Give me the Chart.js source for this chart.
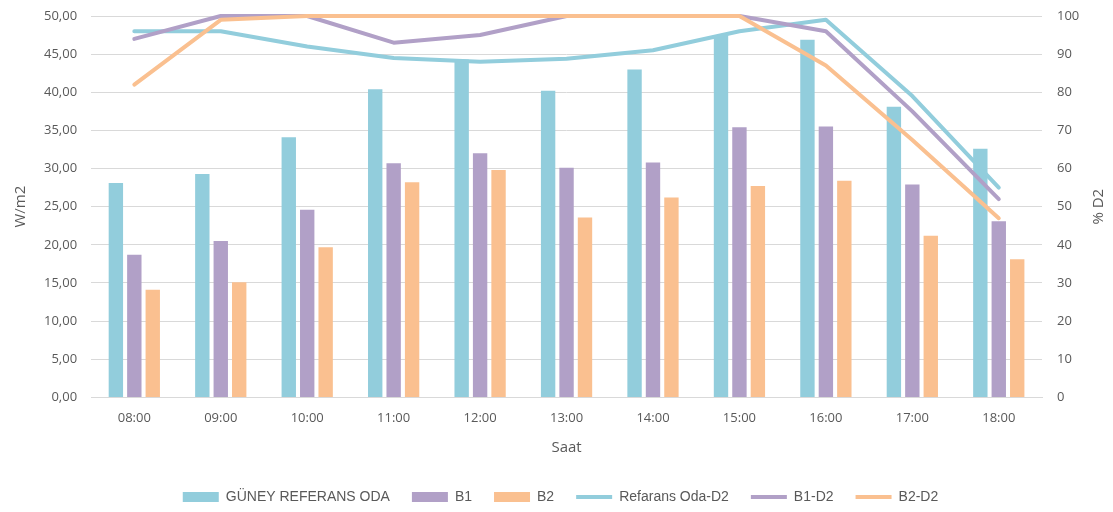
<!DOCTYPE html>
<html>
<head>
<meta charset="utf-8">
<script src="https://cdn.jsdelivr.net/npm/chart.js@4/dist/chart.umd.min.js"></script>
<style>
  body { margin: 0; background: #fff; }
  #wrap { width: 1113px; height: 512px; position: relative; }
</style>
</head>
<body>
<div id="wrap"><canvas id="myChart"></canvas></div>
<script>
// saatler
const hours = ["08:00", "09:00", "10:00", "11:00", "12:00", "13:00", "14:00", "15:00", "16:00", "17:00", "18:00"];

// W/m2 (sol eksen)
const guneyRef = [28.1, 29.3, 34.1, 40.4, 44.3, 40.2, 43.0, 47.5, 46.9, 38.1, 32.6];
const b1 = [18.7, 20.5, 24.6, 30.7, 32.0, 30.1, 30.8, 35.4, 35.5, 27.9, 23.1];
const b2 = [14.1, 15.1, 19.7, 28.2, 29.8, 23.6, 26.2, 27.7, 28.4, 21.2, 18.1];

// % D2 (sag eksen)
const refD2 = [96, 96, 92, 89, 88, 88.8, 91, 96, 99, 79, 55];
const b1D2 = [94, 100, 100, 93, 95, 100, 100, 100, 96, 75, 52];
const b2D2 = [82, 99, 100, 100, 100, 100, 100, 100, 87, 67.5, 47];

const cBlue = "#92CDDC";
const cPurple = "#B1A0C7";
const cOrange = "#FAC090";
const tickColor = "#595959";
const gridColor = "#D9D9D9";
const fontFam = "'Open Sans', sans-serif";

// sag eksen basligi asagidan yukari okunuyor, elle ciziliyor
const rightTitle = {
  id: "rightTitle",
  afterDraw: function (chart) {
    const c = chart.ctx;
    const area = chart.chartArea;
    c.save();
    c.translate(chart.width - 14, (area.top + area.bottom) / 2);
    c.rotate(-Math.PI / 2);
    c.font = "15px " + fontFam;
    c.fillStyle = tickColor;
    c.textAlign = "center";
    c.textBaseline = "middle";
    c.fillText("% D2", 0, 0);
    c.restore();
  },
};

const ctx = document.getElementById("myChart").getContext("2d");

function barSet(label, data, color) {
  return {
    type: "bar",
    label: label,
    data: data,
    backgroundColor: color,
    yAxisID: "y",
    order: 3,
    categoryPercentage: 0.64,
    barPercentage: 0.78,
  };
}

function lineSet(label, data, color, order) {
  return {
    type: "line",
    label: label,
    data: data,
    borderColor: color,
    backgroundColor: color,
    borderWidth: 4,
    borderCapStyle: "round",
    borderJoinStyle: "round",
    pointRadius: 0,
    pointHoverRadius: 0,
    tension: 0,
    fill: false,
    clip: 6,
    yAxisID: "y1",
    order: order,
  };
}

// tick padding ust bosluga da ekleniyor, onu geri al
function fixPad(scale) {
  scale.paddingTop = 16;
  scale.paddingBottom = 8;
}

const myChart = new Chart(ctx, {
  data: {
    labels: hours,
    datasets: [
      barSet("GÜNEY REFERANS ODA", guneyRef, cBlue),
      barSet("B1", b1, cPurple),
      barSet("B2", b2, cOrange),
      lineSet("Refarans Oda-D2", refD2, cBlue, 2),
      lineSet("B1-D2", b1D2, cPurple, 1),
      lineSet("B2-D2", b2D2, cOrange, 0),
    ],
  },
  plugins: [rightTitle],
  options: {
    responsive: true,
    maintainAspectRatio: false,
    animation: false,
    layout: {
      padding: { left: 12, right: 4, top: 0, bottom: -2 },
    },
    plugins: {
      tooltip: { enabled: false },
      legend: {
        position: "bottom",
        labels: {
          font: { family: "'Liberation Sans', Arial, sans-serif", size: 14 },
          color: tickColor,
          usePointStyle: true,
          boxWidth: 36,
          boxHeight: 10,
          pointStyleWidth: 36,
          padding: 22,
          generateLabels: function (chart) {
            return chart.data.datasets.map(function (ds, i) {
              const isLine = ds.type === "line";
              return {
                text: ds.label,
                datasetIndex: i,
                fillStyle: ds.backgroundColor,
                strokeStyle: isLine ? ds.borderColor : ds.backgroundColor,
                lineWidth: isLine ? 4 : 0,
                pointStyle: isLine ? "line" : "rect",
                fontColor: tickColor,
                hidden: false,
              };
            });
          },
        },
      },
    },
    scales: {
      x: {
        grid: { display: false, drawTicks: false },
        border: { display: true, color: gridColor },
        ticks: {
          color: tickColor,
          font: { family: fontFam, size: 13 },
          padding: 13,
        },
        title: {
          display: true,
          text: "Saat",
          color: tickColor,
          font: { family: fontFam, size: 15 },
          padding: { top: 0, bottom: 11 },
        },
      },
      y: {
        position: "left",
        min: 0,
        max: 50,
        grid: { color: gridColor, drawTicks: false },
        border: { display: false },
        ticks: {
          stepSize: 5,
          color: tickColor,
          font: { family: fontFam, size: 13 },
          padding: 14,
          callback: function (v) {
            return v.toFixed(2).replace(".", ",");
          },
        },
        title: {
          display: true,
          text: "W/m2",
          color: tickColor,
          font: { family: fontFam, size: 15 },
          padding: { top: 0, bottom: 0 },
        },
        afterFit: fixPad,
      },
      y1: {
        position: "right",
        min: 0,
        max: 100,
        grid: { display: false, drawTicks: false },
        border: { display: false },
        ticks: {
          stepSize: 10,
          color: tickColor,
          font: { family: fontFam, size: 13 },
          padding: 15,
        },
        afterFit: function (scale) {
          // basliga yer birak
          scale.width = 67;
          fixPad(scale);
        },
      },
    },
  },
});
</script>
</body>
</html>
